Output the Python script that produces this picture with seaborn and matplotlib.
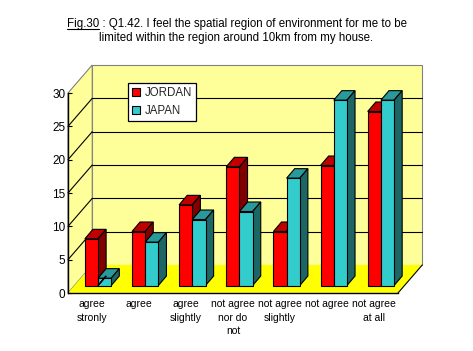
import matplotlib
matplotlib.use("Agg")
import matplotlib.pyplot as plt
import matplotlib.colors as mcolors
from matplotlib.patches import Polygon, Rectangle
from matplotlib.lines import Line2D
import pandas as pd
import seaborn as sns

# ---------------- data ----------------
categories = ["agree\nstronly", "agree", "agree\nslightly", "not agree\nnor do\nnot",
              "not agree\nslightly", "not agree", "not agree\nat all"]
series = ["JORDAN", "JAPAN"]
jordan = [7.0, 8.1, 12.1, 17.8, 8.1, 18.0, 26.1]
japan = [1.1, 6.5, 9.9, 11.1, 16.1, 27.8, 27.8]
yticks = [0, 5, 10, 15, 20, 25, 30]
title_fig = "Fig.30"
title_line1 = " : Q1.42. I feel the spatial region of environment for me to be"
title_line2 = "limited within the region around 10km from my house."

front_colors = {"JORDAN": "#FF0000", "JAPAN": "#33CCCC"}
top_colors = {"JORDAN": "#C00000", "JAPAN": "#2A9999"}
side_colors = {"JORDAN": "#800000", "JAPAN": "#1D6666"}

df = pd.DataFrame({
    "category": categories * 2,
    "value": jordan + japan,
    "country": ["JORDAN"] * len(categories) + ["JAPAN"] * len(categories),
})

sns.set_theme(style="white")
plt.rcParams["font.family"] = ["Liberation Sans", "DejaVu Sans"]

W, H = 473, 351
fig = plt.figure(figsize=(W / 100, H / 100), dpi=100)
fig.patch.set_facecolor("white")
ax = fig.add_axes([68 / W, 58 / H, 330 / W, 200 / H])
ax.patch.set_visible(False)

sns.barplot(data=df, x="category", y="value", hue="country", order=categories,
            hue_order=series, palette=front_colors, saturation=1, width=0.56,
            edgecolor="black", linewidth=0.8, ax=ax)

hex_to_series = {mcolors.to_hex(c).upper(): s for s, c in front_colors.items()}
bars = [p for p in ax.patches if isinstance(p, Rectangle)
        and mcolors.to_hex(p.get_facecolor()).upper() in hex_to_series]
bars.sort(key=lambda p: p.get_x())

ax.set_xlim(-0.5, len(categories) - 0.5)
ax.set_ylim(0, 30)
x_lo, x_hi = -0.5, len(categories) - 0.5

# oblique depth (data units)
DX, DY = 24 / 46.67, 28 / 6.667
FX, FY = 6.4 / 46.67, 7.5 / 6.667     # bar front offset into depth
BX, BY = 8.0 / 46.67, 9.5 / 6.667     # bar depth

gray = "#808080"
# back wall
ax.add_patch(Polygon([(x_lo + DX, DY), (x_hi + DX, DY), (x_hi + DX, 30 + DY), (x_lo + DX, 30 + DY)],
                     closed=True, facecolor="#FFFF99", edgecolor=gray, lw=0.8, zorder=0.5, clip_on=False))
# left wall
ax.add_patch(Polygon([(x_lo, 0), (x_lo + DX, DY), (x_lo + DX, 30 + DY), (x_lo, 30)],
                     closed=True, facecolor="#FFFF99", edgecolor=gray, lw=0.8, zorder=0.5, clip_on=False))
# floor
ax.add_patch(Polygon([(x_lo, 0), (x_hi, 0), (x_hi + DX, DY), (x_lo + DX, DY)],
                     closed=True, facecolor="#FFFF00", edgecolor="none", zorder=0.6, clip_on=False))
ax.add_line(Line2D([x_hi, x_hi + DX], [0, DY], color="black", lw=0.8, zorder=0.7, clip_on=False))

for v in yticks[1:-1]:
    ax.add_line(Line2D([x_lo + DX, x_hi + DX], [v + DY, v + DY], color="black", lw=0.8,
                       zorder=0.8, clip_on=False))
    ax.add_line(Line2D([x_lo, x_lo + DX], [v, v + DY], color="black", lw=0.8,
                       zorder=0.8, clip_on=False))

# 3-D bars built from seaborn's bar patches
for rank, p in enumerate(bars):
    s = hex_to_series[mcolors.to_hex(p.get_facecolor()).upper()]
    x0 = p.get_x() + FX
    w = p.get_width()
    h = p.get_height()
    y0 = FY
    p.set_x(x0)
    p.set_y(y0)
    base = 3 + rank * 0.1
    p.set_zorder(base + 0.05)
    p.set_clip_on(False)
    top = Polygon([(x0, y0 + h), (x0 + BX, y0 + h + BY), (x0 + w + BX, y0 + h + BY), (x0 + w, y0 + h)],
                  closed=True, facecolor=top_colors[s], edgecolor="black", lw=0.8,
                  zorder=base, clip_on=False)
    side = Polygon([(x0 + w, y0), (x0 + w + BX, y0 + BY), (x0 + w + BX, y0 + h + BY), (x0 + w, y0 + h)],
                   closed=True, facecolor=side_colors[s], edgecolor="black", lw=0.8,
                   zorder=base, clip_on=False)
    ax.add_patch(top)
    ax.add_patch(side)

# axes / ticks
for sp in ["top", "right"]:
    ax.spines[sp].set_visible(False)
for sp in ["left", "bottom"]:
    ax.spines[sp].set_color("black")
    ax.spines[sp].set_linewidth(1.0)
    ax.spines[sp].set_zorder(2)
ax.set_xlabel("")
ax.set_ylabel("")
ax.set_yticks(yticks)
ax.set_yticklabels([str(v) for v in yticks])
ax.tick_params(axis="y", direction="in", length=3, width=0.8, color="black",
               labelsize=8.5, pad=2, left=True)
ax.set_xticks(range(len(categories)))
ax.set_xticklabels(categories)
ax.tick_params(axis="x", which="major", length=0, labelsize=7.5, pad=4.5)
ax.set_xticks([i + 0.5 for i in range(len(categories) - 1)], minor=True)
ax.tick_params(axis="x", which="minor", direction="in", length=4, width=0.8,
               color="black", bottom=True)
for t in ax.get_xticklabels():
    t.set_linespacing(1.45)
    t.set_color("black")
for t in ax.get_yticklabels():
    t.set_color("black")

# legend
sns.move_legend(ax, "upper left", bbox_to_anchor=(128 / W, 1 - 83 / H),
                bbox_transform=fig.transFigure, title=None, frameon=True, fancybox=False,
                framealpha=1, fontsize=8.3, handlelength=0.7, handleheight=0.7,
                handletextpad=0.4, borderpad=0.35, labelspacing=0.5, borderaxespad=0)
leg = ax.get_legend()
leg.get_frame().set_edgecolor("black")
leg.get_frame().set_linewidth(0.9)
leg.set_zorder(20)
for hnd in leg.get_patches():
    hnd.set_edgecolor("black")
    hnd.set_linewidth(0.8)

# title
fs = 8.3
full1 = title_fig + title_line1
t1 = fig.text(0.5, 1 - 27 / H, full1, ha="center", va="baseline", fontsize=fs, color="black")
fig.text(0.5, 1 - 41.5 / H, title_line2, ha="center", va="baseline", fontsize=fs, color="black")
fig.canvas.draw()
r = fig.canvas.get_renderer()
bb = t1.get_window_extent(r)
tmp = fig.text(0, 0, title_fig, fontsize=fs)
wfig = tmp.get_window_extent(r).width
tmp.remove()
uy = (H - 28.5) / H
fig.add_artist(Line2D([bb.x0 / W, (bb.x0 + wfig) / W], [uy, uy], color="black", lw=0.8,
                      transform=fig.transFigure))

fig.savefig("out.png", dpi=100)
